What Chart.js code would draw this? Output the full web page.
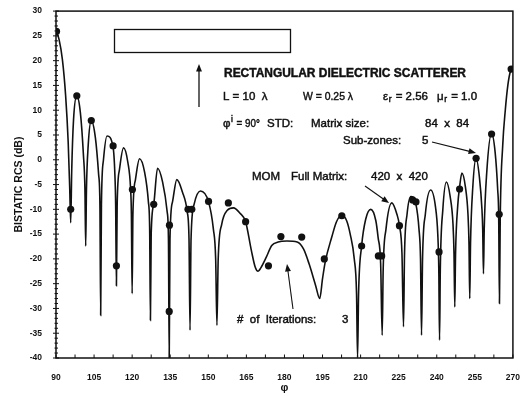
<!DOCTYPE html>
<html>
<head>
<meta charset="utf-8">
<script src="https://cdn.jsdelivr.net/npm/chart.js@4.4.1/dist/chart.umd.min.js"></script>
<style>
  html, body { margin: 0; padding: 0; background: #fff; }
  #wrap { width: 527px; height: 396px; }
</style>
</head>
<body>
<div id="wrap"><canvas id="rcs"></canvas></div>
<script>
// --- DATA ---
// STD solution (solid curve): scattering angle phi (deg) and bistatic RCS (dB)
const stdPhi = [
  90, 91.2, 92.5, 93.8, 94.8, 95.4, 95.8,
  96.2, 96.9, 98.2, 99.6, 100.8, 101.4, 101.7,
  102.0, 102.7, 103.9, 105.5, 106.8, 107.3, 107.6,
  107.9, 108.7, 110.1, 112.5, 113.2, 113.5, 113.8,
  114.1, 115.0, 116.6, 118.3, 119.4, 119.7, 120.0,
  120.3, 121.3, 122.9, 124.9, 126.4, 126.9, 127.2,
  127.5, 128.5, 130.0, 132.0, 133.8, 134.3, 134.6,
  134.9, 135.9, 137.6, 139.8, 141.7, 142.4, 142.8,
  143.2, 144.4, 146.9, 150.1, 152.0, 152.9, 153.4,
  153.9, 155.3, 157.5, 159.9, 162.5, 164.7, 167.0, 168.5, 169.6, 170.7, 172.8,
  175.0, 177.5, 181.0, 185.0, 187.5, 189.7, 192.3, 193.9, 195.0, 196.1, 198.7,
  200.5, 202.6, 204.5, 205.9, 207.5, 208.4, 208.8,
  209.2, 210.4, 212.0, 214.0, 216.0, 216.9, 217.9, 218.5,
  218.9, 220.0, 222.3, 224.3, 225.3, 226.3, 226.9,
  227.3, 228.3, 229.8, 231.8, 233.0, 233.6, 234.0,
  234.4, 235.5, 237.6, 239.5, 240.4, 240.8, 241.1,
  241.4, 242.4, 243.8, 245.3, 246.4, 246.8, 247.1,
  247.4, 248.3, 249.0, 249.9, 251.3, 252.3, 252.7, 253.0,
  253.3, 254.2, 255.5, 256.8, 257.8, 258.1, 258.4,
  258.7, 259.7, 261.6, 263.0, 264.0, 264.4, 264.7,
  265.0, 266.0, 267.0, 268.0, 269.0, 270.0
];
const stdRcs = [
  26.0, 24.3, 20.3, 12.9, 3.6, -5.7, -12.7,
  -2, 8, 12.9, 9.5, 1, -6, -17.4,
  -6, 3, 7.9, 4.5, -3, -9, -31.4,
  -9, 0, 4.8, 2.5, -3, -9, -25.4,
  -9, -2, 2.4, -0.5, -6, -11, -27,
  -11, -4, 0.2, -2.5, -8.5, -14, -32.4,
  -15, -9, -1.7, -4.5, -10.5, -16, -40,
  -16, -8.5, -4, -6.5, -10.5, -16, -34.4,
  -16, -9, -6.3, -8.5, -14, -20, -33.4,
  -20, -13, -10.2, -9.7, -10.8, -12.5, -18.4, -21.7, -22.5, -21.8, -19.7,
  -17.3, -16.6, -16.4, -16.6, -18, -21, -25.4, -28, -24, -20.5, -15.5,
  -12.5, -11.2, -12.3, -15, -20, -27, -40,
  -27, -17.4, -12, -10, -12.3, -15.7, -21, -35.4,
  -22, -14, -8.7, -11, -13.3, -19, -33.7,
  -19, -11, -7.4, -9, -14, -20, -35.4,
  -20, -11, -6.1, -9.5, -15, -22, -36.4,
  -22, -10, -4.5, -7.5, -13, -19, -29.7,
  -19, -9, -5.5, -2.7, -5.5, -11, -17, -28,
  -17, -5.5, 0.3, -3.5, -10, -14, -23,
  -14, -2.5, 5.3, 1.5, -6, -11.5, -29,
  -12, 3, 10, 15, 17.8, 18.5
];

// MOM full matrix (dots)
const momPhi = [
  90.2, 95.8, 98.2, 103.9, 112.5, 113.8, 120.1, 128.5, 134.7, 134.6,
  142.0, 143.5, 150.1, 157.9, 164.7, 173.7, 178.6, 186.8, 195.7, 202.6,
  210.4, 217.0, 218.3, 225.3, 230.5, 231.8, 240.9, 249.0, 255.5, 261.6,
  264.6, 269.3
];
const momRcs = [
  25.9, -10, 12.9, 7.9, 2.8, -21.4, -6, -9, -13.2, -30.6,
  -10, -10, -8.4, -8.7, -12.5, -21.4, -15.5, -15.6, -20, -11.3,
  -17.4, -19.4, -19.4, -13.3, -8.1, -8.5, -18.6, -5.9, 0.3, 5.2,
  -11, 18.3
];

// axis ranges / ticks
const phiMin = 90, phiMax = 270, phiStep = 7.5, phiLabelEvery = 15;
const rcsMin = -40, rcsMax = 30, rcsStep = 1, rcsLabelEvery = 5;

const INK = '#111';
const FONT = '"Liberation Sans", Arial, Helvetica, sans-serif';

// --- annotation helpers ---
function arrow(ctx, x1, y1, x2, y2, head) {
  const a = Math.atan2(y2 - y1, x2 - x1);
  ctx.beginPath();
  ctx.moveTo(x1, y1);
  ctx.lineTo(x2 - Math.cos(a) * head * 0.7, y2 - Math.sin(a) * head * 0.7);
  ctx.stroke();
  ctx.beginPath();
  ctx.moveTo(x2, y2);
  ctx.lineTo(x2 - head * Math.cos(a - 0.38), y2 - head * Math.sin(a - 0.38));
  ctx.lineTo(x2 - head * Math.cos(a + 0.38), y2 - head * Math.sin(a + 0.38));
  ctx.closePath();
  ctx.fill();
}

// text with a thin outline so it reads as heavy as the scanned lettering
function txt(ctx, s, x, y, w) {
  if (w) { ctx.fillText(s, x, y, w); ctx.strokeText(s, x, y, w); }
  else { ctx.fillText(s, x, y); ctx.strokeText(s, x, y); }
}

// symbol + sub/superscript + rest
function sym(ctx, base, script, rest, x, y, up, restW) {
  txt(ctx, base, x, y);
  let cx = x + ctx.measureText(base).width;
  const keep = ctx.font;
  ctx.font = '8.5px ' + FONT;
  txt(ctx, script, cx + 0.5, y + (up ? -4 : 3));
  cx += ctx.measureText(script).width + 1.5;
  ctx.font = keep;
  txt(ctx, rest, cx, y, restW);
}

const framePlugin = {
  id: 'frame',
  afterDraw(chart) {
    const { ctx, chartArea: a, scales: { x, y } } = chart;
    ctx.save();
    ctx.strokeStyle = INK;
    ctx.fillStyle = INK;

    // box
    ctx.lineWidth = 1.5;
    ctx.strokeRect(a.left, a.top, a.right - a.left, a.bottom - a.top);

    // tick marks
    ctx.lineWidth = 1;
    x.ticks.forEach(t => {
      const px = x.getPixelForValue(t.value);
      ctx.beginPath();
      ctx.moveTo(px, a.bottom);
      ctx.lineTo(px, a.bottom - 3.5);
      ctx.stroke();
    });
    y.ticks.forEach(t => {
      const py = y.getPixelForValue(t.value);
      const major = t.value % rcsLabelEvery === 0;
      ctx.beginPath();
      ctx.moveTo(a.left - (major ? 3 : 1.5), py);
      ctx.lineTo(a.left + (major ? 3 : 2), py);
      ctx.stroke();
    });

    // scatterer outline and incidence arrow
    ctx.lineWidth = 1.3;
    ctx.strokeRect(114.5, 29.5, 176, 23);
    arrow(ctx, 199, 107, 199, 64, 8);

    // texts
    ctx.textBaseline = 'middle';
    ctx.textAlign = 'left';
    ctx.lineWidth = 0.45;
    ctx.font = 'bold 12px ' + FONT;
    txt(ctx, 'RECTANGULAR DIELECTRIC SCATTERER', 224, 74, 242);

    ctx.font = '11.5px ' + FONT;
    txt(ctx, 'L = 10  λ', 223, 97);
    txt(ctx, 'W = 0.25 λ', 303, 97, 50);
    sym(ctx, 'ε', 'r', ' = 2.56', 383, 97, false);
    sym(ctx, 'μ', 'r', ' = 1.0', 437, 97, false);
    sym(ctx, 'φ', 'i', ' = 90°', 223, 124, true, 26);
    txt(ctx, 'STD:', 267, 124);
    txt(ctx, 'Matrix size:', 311, 124);
    txt(ctx, '84  x  84', 425, 124);
    txt(ctx, 'Sub-zones:', 343, 141);
    txt(ctx, '5', 422, 141);
    txt(ctx, 'MOM', 252, 177);
    txt(ctx, 'Full Matrix:', 291, 177);
    txt(ctx, '420  x  420', 371, 177);
    txt(ctx, '#  of  Iterations:', 237, 320);
    txt(ctx, '3', 342, 320);

    ctx.lineWidth = 1.1;
    arrow(ctx, 432, 142, 476, 153, 8);
    arrow(ctx, 365, 186, 389, 203, 8);
    arrow(ctx, 293, 309, 287, 264, 8);

    ctx.restore();
  }
};

new Chart(document.getElementById('rcs'), {
  type: 'line',
  data: {
    datasets: [
      {
        label: 'MOM Full Matrix',
        data: momPhi.map((p, i) => ({ x: p, y: momRcs[i] })),
        showLine: false,
        pointRadius: 3.6,
        pointBackgroundColor: INK,
        pointBorderColor: INK,
        pointBorderWidth: 0
      },
      {
        label: 'STD',
        data: stdPhi.map((p, i) => ({ x: p, y: stdRcs[i] })),
        borderColor: INK,
        borderWidth: 1.6,
        pointRadius: 0,
        cubicInterpolationMode: 'monotone',
        fill: false
      }
    ]
  },
  options: {
    responsive: true,
    maintainAspectRatio: false,
    animation: false,
    events: [],
    layout: { padding: { top: 7, right: 7, left: 0, bottom: 0 } },
    plugins: { legend: { display: false }, tooltip: { enabled: false } },
    scales: {
      x: {
        type: 'linear',
        min: phiMin,
        max: phiMax,
        grid: { display: false },
        border: { display: false },
        afterFit: s => { s.height = 38; },
        ticks: {
          stepSize: phiStep,
          autoSkip: false,
          maxRotation: 0,
          padding: 7,
          color: INK,
          font: { family: FONT, size: 8.5, weight: 'bold' },
          callback: v => (v % phiLabelEvery === 0 ? String(v) : '')
        },
        title: {
          display: true,
          text: 'φ',
          color: INK,
          font: { family: FONT, size: 11, weight: 'bold' },
          padding: { top: 0, bottom: 1.5 }
        }
      },
      y: {
        min: rcsMin,
        max: rcsMax,
        grid: { display: false },
        border: { display: false },
        afterFit: s => { s.width = 56; },
        ticks: {
          stepSize: rcsStep,
          autoSkip: false,
          padding: 6,
          color: INK,
          font: { family: FONT, size: 8.5, weight: 'bold' },
          callback: v => (v % rcsLabelEvery === 0 ? String(v) : '')
        },
        title: {
          display: true,
          text: 'BISTATIC RCS (dB)',
          color: INK,
          font: { family: FONT, size: 10.5, weight: 'bold' },
          padding: { top: 13, bottom: 0 }
        }
      }
    }
  },
  plugins: [framePlugin]
});
</script>
</body>
</html>
